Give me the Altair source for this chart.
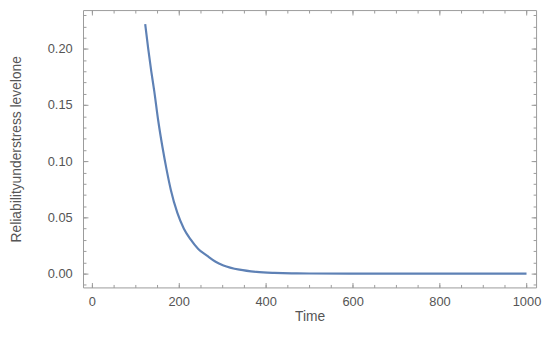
import altair as alt
import pandas as pd

# Curve values
time = [123, 130, 137, 144, 153, 163, 172, 182, 197, 212, 227, 245, 265,
        285, 303, 340, 379, 420, 460, 500, 600, 700, 800, 900, 1000]
reliability = [0.222, 0.200, 0.180, 0.162, 0.136, 0.112, 0.093, 0.0745,
               0.054, 0.040, 0.0307, 0.022, 0.016, 0.0105, 0.0073, 0.0035,
               0.0015, 0.0006, 0.0002, 0.0001, 0.0, 0.0, 0.0, 0.0, 0.0]

x_major = [0, 200, 400, 600, 800, 1000]
x_minor = list(range(-0, 1001, 50))
y_major = [0.0, 0.05, 0.10, 0.15, 0.20]
y_minor = [round(-0.01 + 0.01 * i, 2) for i in range(25)]

df = pd.DataFrame({"t": time, "r": reliability})

FONT = "Liberation Sans"
TXT = "#555555"
FRAME = "#9a9a9a"
XD = [-20, 1022]
YD = [-0.0123, 0.2345]


def xaxis(values, size, orient, labels, title=None):
    kw = dict(orient=orient, values=values, tickSize=size, offset=-size,
              domain=False, grid=False, labels=labels, tickColor=FRAME,
              tickWidth=1, labelFont=FONT, labelFontSize=13, format="d",
              labelColor=TXT, labelPadding=8 if labels else 2,
              titleFont=FONT, titleFontSize=14, titleColor=TXT,
              titleFontWeight="normal", titlePadding=2)
    return alt.X("t:Q", scale=alt.Scale(domain=XD, nice=False, zero=False),
                 axis=alt.Axis(**kw), title=title)


def yaxis(values, size, orient, labels, title=None):
    kw = dict(orient=orient, values=values, tickSize=size, offset=-size,
              domain=False, grid=False, labels=labels, tickColor=FRAME,
              tickWidth=1, labelFont=FONT, labelFontSize=13,
              labelColor=TXT, labelPadding=11 if labels else 2,
              format=".2f",
              titleFont=FONT, titleFontSize=14, titleColor=TXT,
              titleFontWeight="normal", titlePadding=24)
    return alt.Y("r:Q", scale=alt.Scale(domain=YD, nice=False, zero=False),
                 axis=alt.Axis(**kw), title=title)


main = alt.Chart(df).mark_line(color="#5E81B5", strokeWidth=2.2,
                               interpolate="monotone", clip=True).encode(
    x=xaxis(x_major, 5, "bottom", True, "Time"),
    y=yaxis(y_major, 5, "left", True, "Reliabilityunderstress levelone"),
)

ghost = alt.Chart(df).mark_line(opacity=0)
l2 = ghost.encode(x=xaxis(x_minor, 3, "bottom", False),
                  y=yaxis(y_minor, 3, "left", False))
l3 = ghost.encode(x=xaxis(x_major, 5, "top", False),
                  y=yaxis(y_major, 5, "right", False))
l4 = ghost.encode(x=xaxis(x_minor, 3, "top", False),
                  y=yaxis(y_minor, 3, "right", False))

chart = alt.layer(main, l2, l3, l4).resolve_axis(
    x="independent", y="independent"
).properties(
    width=459, height=281,
    autosize=alt.AutoSizeParams(type="none"),
    padding={"left": 76, "top": 0, "right": 6, "bottom": 39},
).configure_view(stroke=FRAME, strokeWidth=1)

chart.save("out.html", embed_options={"renderer": "svg", "actions": False})
